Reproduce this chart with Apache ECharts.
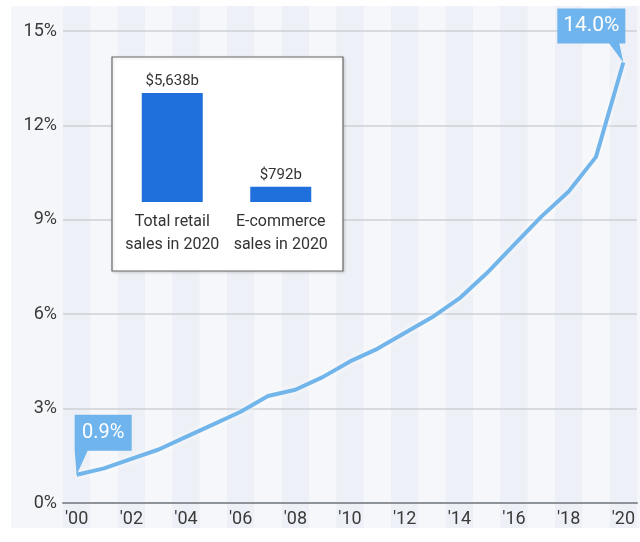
<!DOCTYPE html>
<html>
<head>
<meta charset="utf-8">
<script src="https://cdn.jsdelivr.net/npm/echarts@6/dist/echarts.min.js"></script>
<style>
html,body{margin:0;padding:0;background:#ffffff;width:640px;height:542px;overflow:hidden;}
#chart{position:absolute;left:11px;top:6px;width:629px;height:522px;}
</style>
</head>
<body>
<div id="chart"></div>
<script>
// ---- data ----
const years = ['2000','2001','2002','2003','2004','2005','2006','2007','2008','2009','2010',
               '2011','2012','2013','2014','2015','2016','2017','2018','2019','2020'];
const ecommerceShare = [0.9,1.1,1.4,1.7,2.1,2.5,2.9,3.4,3.6,4.0,4.5,
                        4.9,5.4,5.9,6.5,7.3,8.2,9.1,9.9,11.0,14.0];
const yTicks = [0,3,6,9,12,15];
const insetCategories = ['Total retail\nsales in 2020', 'E-commerce\nsales in 2020'];
const insetValues = [5638, 792];

const FONT = "Roboto, sans-serif";
const LINE = '#72b5ea';
const CALLOUT = '#6fb4ec';
const firstIdx = 0, lastIdx = years.length - 1;

function draw(){
  const chart = echarts.init(document.getElementById('chart'), null, {renderer:'canvas'});
  chart.setOption({
    backgroundColor: '#f5f6f9',
    animation: false,
    graphic: [{
      type: 'rect', z: 5,
      shape: {x: 101, y: 51, width: 231, height: 214},
      style: {fill: '#ffffff', stroke: '#6a6a6a', lineWidth: 1.2,
              shadowColor: 'rgba(0,0,0,0.15)', shadowBlur: 3, shadowOffsetX: 1, shadowOffsetY: 1}
    }],
    grid: [
      {left: 52, right: 3, top: 0, bottom: 0},
      {left: 52, right: 3, top: 25, bottom: 21},
      {left: 107, width: 217, top: 87, height: 109, z: 10}
    ],
    xAxis: [
      {gridIndex: 0, type: 'category', data: years, boundaryGap: true, z: 0,
       axisLine: {show: false}, axisTick: {show: false}, axisLabel: {show: false},
       splitArea: {show: true, interval: 0, areaStyle: {color: ['#edf0f6', '#f6f7fa']}}},
      {gridIndex: 1, type: 'category', data: years, boundaryGap: true, z: 2,
       axisLine: {show: true, lineStyle: {color: '#8e9399', width: 2}},
       axisTick: {show: false},
       axisLabel: {interval: 1, margin: 7, color: '#3a3a3a', fontSize: 18, fontFamily: FONT,
                   formatter: v => "'" + v.slice(2)}},
      {gridIndex: 2, type: 'category', data: insetCategories, z: 10,
       axisLine: {show: false}, axisTick: {show: false},
       axisLabel: {interval: 0, margin: 8, color: '#333', fontSize: 16, lineHeight: 23, fontFamily: FONT}}
    ],
    yAxis: [
      {gridIndex: 0, type: 'value', show: false},
      {gridIndex: 1, type: 'value', min: yTicks[0], max: yTicks[yTicks.length-1], interval: 3, z: 2,
       axisLine: {show: false}, axisTick: {show: false},
       axisLabel: {margin: 6, color: '#3a3a3a', fontSize: 18, fontFamily: FONT, formatter: '{value}%'},
       splitLine: {lineStyle: {color: '#cdd0d5', width: 1.5}}},
      {gridIndex: 2, type: 'value', min: 0, max: 'dataMax', show: false}
    ],
    series: [
      {
        type: 'line', xAxisIndex: 1, yAxisIndex: 1, data: ecommerceShare, z: 3,
        showSymbol: false, symbol: 'none', smooth: false,
        lineStyle: {color: LINE, width: 4, shadowColor: 'rgba(255,255,255,0.9)', shadowBlur: 6},
        markPoint: {
          silent: true,
          data: [
            {
              coord: [firstIdx, ecommerceShare[firstIdx]],
              symbol: 'path://M0 0 H57 V36 H13 L2 60 L0 36 Z',
              symbolSize: [57, 60], symbolKeepAspect: false,
              symbolOffset: [26.5, -30],
              itemStyle: {color: CALLOUT},
              label: {show: true, position: 'inside', offset: [0, -12], color: '#ffffff',
                      fontSize: 20, fontFamily: FONT,
                      formatter: () => ecommerceShare[firstIdx].toFixed(1) + '%'}
            },
            {
              coord: [lastIdx, ecommerceShare[lastIdx]],
              symbol: 'path://M0 0 H68 V35 H62 L66 54 L52 35 H0 Z',
              symbolSize: [68, 54], symbolKeepAspect: false,
              symbolOffset: [-32, -27],
              itemStyle: {color: CALLOUT},
              label: {show: true, position: 'inside', offset: [0, -9.5], color: '#ffffff',
                      fontSize: 21, fontFamily: FONT,
                      formatter: () => ecommerceShare[lastIdx].toFixed(1) + '%'}
            }
          ]
        }
      },
      {
        type: 'bar', xAxisIndex: 2, yAxisIndex: 2, data: insetValues, z: 10,
        barWidth: 61,
        itemStyle: {color: '#1f6fdc'},
        label: {show: true, position: 'top', distance: 4, color: '#333', fontSize: 15, fontFamily: FONT,
                formatter: p => '$' + p.value.toLocaleString('en-US') + 'b'}
      }
    ]
  });
}
document.fonts.load("18px Roboto").then(draw, draw);
</script>
</body>
</html>
